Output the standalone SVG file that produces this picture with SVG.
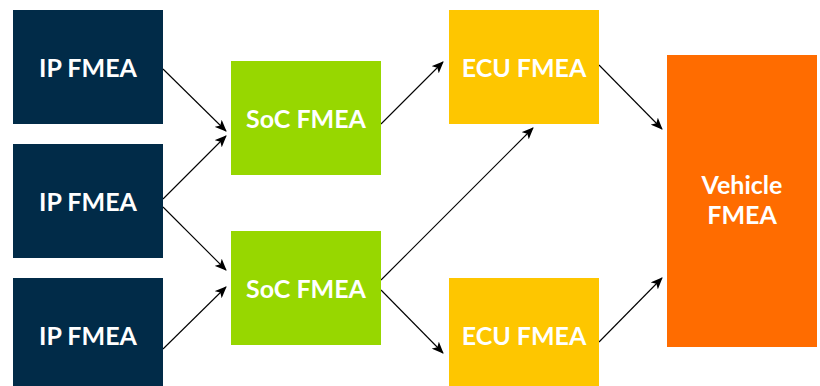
<svg xmlns="http://www.w3.org/2000/svg" width="820" height="386" viewBox="0 0 820 386">
<defs>
<style>
.t{font-family:Lato,"Liberation Sans",sans-serif;font-weight:bold;font-size:25px;fill:#ffffff;text-anchor:middle}
.ip{fill:#012b48}
.soc{fill:#97d700}
.ecu{fill:#fec600}
.veh{fill:#ff6c00}
.c{stroke:#000;stroke-width:1.1;fill:none;marker-end:url(#ah)}
</style>
<marker id="ah" viewBox="0 0 12 10" refX="11" refY="5" markerWidth="12" markerHeight="10" markerUnits="userSpaceOnUse" orient="auto">
<path d="M0,0 L12,5 L0,10 L3,5 Z" fill="#000"/>
</marker>
</defs>
<rect width="820" height="386" fill="#fff"/>
<g id="connectors">
<line class="c" x1="163" y1="69" x2="226" y2="131"/>
<line class="c" x1="163" y1="199" x2="226" y2="136"/>
<line class="c" x1="163" y1="207" x2="226" y2="270"/>
<line class="c" x1="163" y1="349" x2="226" y2="287"/>
<line class="c" x1="381" y1="124" x2="443" y2="62"/>
<line class="c" x1="381" y1="280" x2="533" y2="128"/>
<line class="c" x1="381" y1="290" x2="443" y2="353"/>
<line class="c" x1="599" y1="65" x2="662" y2="129"/>
<line class="c" x1="599" y1="342" x2="662" y2="278"/>
</g>
<g id="ip1"><rect class="ip" x="13" y="10" width="150" height="114"/><text class="t" x="88" y="77">IP FMEA</text></g>
<g id="ip2"><rect class="ip" x="13" y="144" width="150" height="114"/><text class="t" x="88" y="211">IP FMEA</text></g>
<g id="ip3"><rect class="ip" x="13" y="278" width="150" height="114"/><text class="t" x="88" y="345">IP FMEA</text></g>
<g id="soc1"><rect class="soc" x="231" y="61" width="150" height="114"/><text class="t" x="306" y="128">SoC FMEA</text></g>
<g id="soc2"><rect class="soc" x="231" y="231" width="150" height="114"/><text class="t" x="306" y="298">SoC FMEA</text></g>
<g id="ecu1"><rect class="ecu" x="449" y="10" width="150" height="114"/><text class="t" x="524" y="77">ECU FMEA</text></g>
<g id="ecu2"><rect class="ecu" x="449" y="278" width="150" height="114"/><text class="t" x="524" y="345">ECU FMEA</text></g>
<g id="vehicle"><rect class="veh" x="667" y="55" width="150" height="292"/><text class="t" x="742" y="194">Vehicle</text><text class="t" x="742" y="224">FMEA</text></g>
</svg>
